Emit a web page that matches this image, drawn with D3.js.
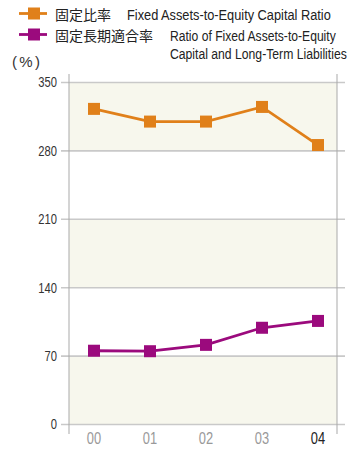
<!DOCTYPE html>
<html>
<head>
<meta charset="utf-8">
<script src="https://cdn.jsdelivr.net/npm/d3@7/dist/d3.min.js"></script>
<style>
  body { margin: 0; background: #fff; }
  svg text { font-family: "Liberation Sans", Arial, sans-serif; }
</style>
</head>
<body>
<svg id="chart" width="349" height="452"></svg>
<script>
// Fiscal years and ratio series (%)
const years = ["00", "01", "02", "03", "04"];
const fixedRatio = [323, 310, 310, 325, 286];
const fixedLongTermRatio = [75.5, 75, 81.5, 99, 106];
const yTicks = [0, 70, 140, 210, 280, 350];

const seriesNames = [
  { jp: "固定比率", en: ["Fixed Assets-to-Equity Capital Ratio"] },
  { jp: "固定長期適合率", en: ["Ratio of Fixed Assets-to-Equity", "Capital and Long-Term Liabilities"] }
];
const colors = ["#e0801a", "#9b0a7d"];

const svg = d3.select("#chart");

// Place a text at (x, y) and squeeze it horizontally to a target width
function squeezedText(parent, x, y, str, width, size, anchor) {
  const t = parent.append("text").attr("font-size", size).attr("fill", "#222").text(str);
  const w = t.node().getComputedTextLength();
  const s = width / w;
  t.attr("text-anchor", anchor || "start")
   .attr("transform", `translate(${x},${y}) scale(${s},1)`);
  return t;
}

const plotLeft = 69, plotRight = 337, plotTop = 74, plotBottom = 434;
const x = d3.scalePoint().domain(years).range([94, 318]);
const y = d3.scaleLinear().domain([0, 350]).range([424.5, 82.5]);

// Alternating shaded bands
const bands = [[0, 70], [140, 210], [280, 350]];
svg.append("g").selectAll("rect").data(bands).join("rect")
  .attr("x", plotLeft).attr("width", plotRight - plotLeft)
  .attr("y", d => y(d[1])).attr("height", d => y(d[0]) - y(d[1]))
  .attr("fill", "#f7f7ed");

// Horizontal gridlines with left ticks
svg.append("g").selectAll("line").data(yTicks).join("line")
  .attr("x1", 61).attr("x2", 345)
  .attr("y1", d => y(d)).attr("y2", d => y(d))
  .attr("stroke", "#c9c9c9").attr("stroke-width", 1.6);

// Vertical frame lines
svg.append("g").selectAll("line").data([plotLeft, plotRight]).join("line")
  .attr("x1", d => d).attr("x2", d => d)
  .attr("y1", plotTop).attr("y2", plotBottom)
  .attr("stroke", "#a9a9a9").attr("stroke-width", 1);

// Y tick labels (axis generator, condensed glyphs)
const yAxis = d3.axisLeft(y).tickValues(yTicks).tickSize(0).tickPadding(0);
const yAx = svg.append("g").attr("transform", "translate(57,0)").call(yAxis);
yAx.select(".domain").remove();
yAx.selectAll("text").attr("font-size", 14).attr("fill", "#333")
  .attr("font-family", "'Liberation Sans', sans-serif")
  .attr("transform", "scale(0.8,1)");

// X labels
const xAxis = d3.axisBottom(x).tickSize(0).tickPadding(0);
const xAx = svg.append("g").attr("transform", "translate(0,432)").call(xAxis);
xAx.select(".domain").remove();
xAx.selectAll("text").attr("font-size", 16.5)
  .attr("fill", (d, i) => i === years.length - 1 ? "#222" : "#999")
  .attr("font-family", "'Liberation Sans', sans-serif")
  .attr("transform", "scale(0.78,1)");
xAx.selectAll(".tick").each(function (d) {
  // keep each label centred on its category after the horizontal squeeze
  d3.select(this).attr("transform", `translate(${x(d)},0)`);
});

// Series lines and markers
const line = d3.line().x((d, i) => x(years[i])).y(d => y(d));
[fixedRatio, fixedLongTermRatio].forEach((vals, k) => {
  svg.append("path").datum(vals)
    .attr("d", line).attr("fill", "none")
    .attr("stroke", colors[k]).attr("stroke-width", 2.8);
  svg.append("g").selectAll("rect").data(vals).join("rect")
    .attr("x", (d, i) => x(years[i]) - 6).attr("y", d => y(d) - 6)
    .attr("width", 12).attr("height", 12)
    .attr("fill", colors[k]);
});

// Legend
const legendY = [13.5, 34.5];
const enX = [127, 170];
const enWidths = [[204], [166, 177]];
seriesNames.forEach((s, k) => {
  const g = svg.append("g");
  g.append("line").attr("x1", 19).attr("x2", 47)
    .attr("y1", legendY[k]).attr("y2", legendY[k])
    .attr("stroke", colors[k]).attr("stroke-width", 2.8);
  g.append("rect").attr("x", 28).attr("y", legendY[k] - 6)
    .attr("width", 12).attr("height", 12).attr("fill", colors[k]);
  g.append("text")
    .attr("x", 55).attr("y", legendY[k] + 6)
    .attr("font-size", 14).attr("fill", "#222")
    .style("font-family", "'Noto Sans CJK JP', sans-serif")
    .text(s.jp);
  s.en.forEach((t, j) => {
    squeezedText(g, enX[k], legendY[k] + 6.5 + j * 18, t, enWidths[k][j], 15);
  });
});

// Unit label
svg.append("text").attr("x", 12).attr("y", 67)
  .attr("font-size", 15).attr("fill", "#333")
  .attr("textLength", 28).attr("lengthAdjust", "spacing")
  .text("(%)");
</script>
</body>
</html>
